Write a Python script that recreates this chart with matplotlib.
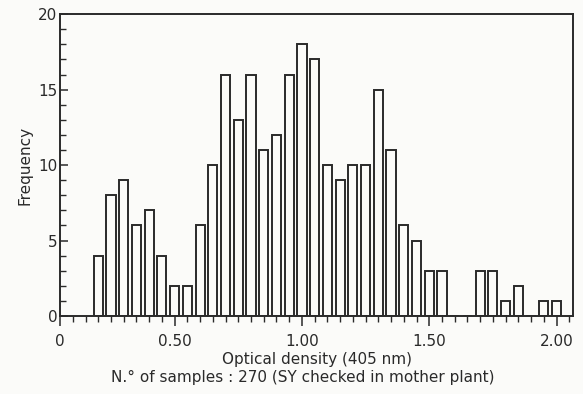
import numpy as np
import matplotlib.pyplot as plt
from matplotlib.ticker import MultipleLocator

# bin centres (optical density, step 0.05) and counts
bin_centers = np.round(np.arange(0.20, 2.001, 0.05), 2)
counts = [4, 8, 9, 6, 7, 4, 2, 2, 6, 10,
          16, 13, 16, 11, 12, 16, 18, 17, 10, 9,
          10, 10, 15, 11, 6, 5, 3, 3, 0, 0,
          3, 3, 1, 2, 0, 1, 1]
xtick_pos = [0.05, 0.50, 1.00, 1.50, 2.00]
xtick_labels = ['0', '0.50', '1.00', '1.50', '2.00']

ink = '#2a2a2a'
fig = plt.figure(figsize=(5.83, 3.94), dpi=100)
fig.patch.set_facecolor('#fbfbf9')
ax = fig.add_axes([0.103, 0.198, 0.880, 0.766])
ax.set_facecolor('#fbfbf9')

ax.bar(bin_centers, counts, width=0.036, facecolor='none',
       edgecolor=ink, linewidth=1.4)

ax.set_xlim(0.05, 2.065)
ax.set_ylim(0, 20)
ax.set_xticks(xtick_pos)
ax.set_xticklabels(xtick_labels)
ax.xaxis.set_minor_locator(MultipleLocator(0.05))
ax.set_yticks([0, 5, 10, 15, 20])
ax.yaxis.set_minor_locator(MultipleLocator(1))

ax.tick_params(axis='x', which='major', direction='out', length=7, width=1.1,
               color=ink, labelsize=11, labelcolor=ink, pad=6)
ax.tick_params(axis='x', which='minor', direction='out', length=4, width=1.0, color=ink)
ax.tick_params(axis='y', which='major', direction='in', length=6, width=1.1,
               color=ink, labelsize=11, labelcolor=ink, pad=2)
ax.tick_params(axis='y', which='minor', direction='in', length=4, width=1.0, color=ink)

for s in ax.spines.values():
    s.set_color(ink)
    s.set_linewidth(1.4)

ax.set_ylabel('Frequency', fontsize=11, color=ink, labelpad=4)
ax.set_xlabel('Optical density (405 nm)', fontsize=11, color=ink, labelpad=2)
fig.text(0.52, 0.03, 'N.° of samples : 270 (SY checked in mother plant)',
         ha='center', fontsize=11, color=ink)

plt.savefig('out.png', dpi=100, facecolor=fig.get_facecolor())
